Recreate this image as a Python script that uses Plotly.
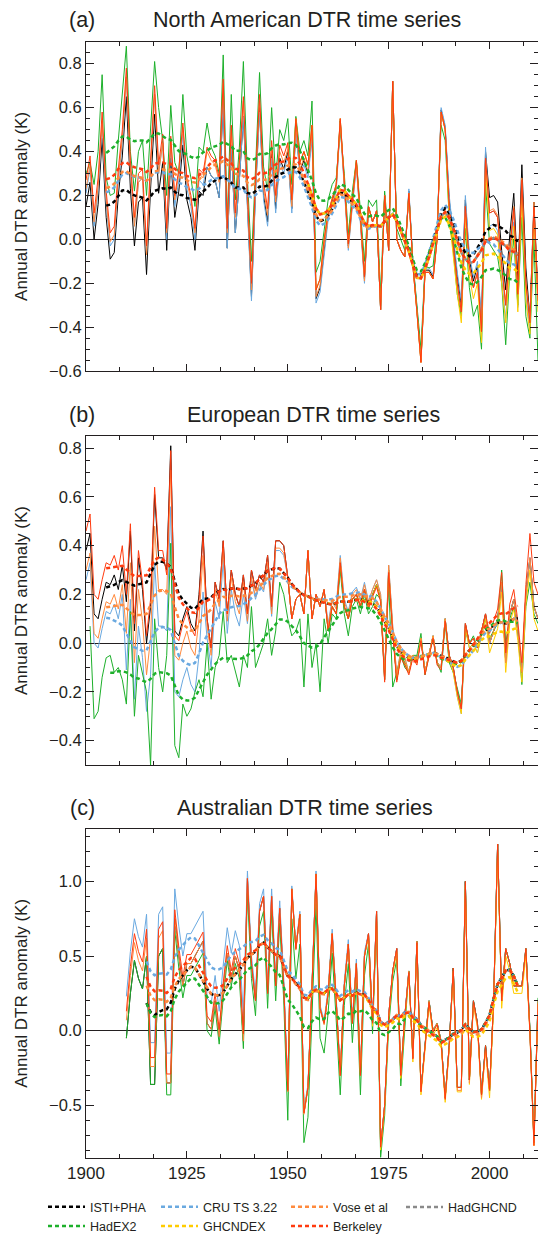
import numpy as np
import plotly.graph_objects as go
from plotly.subplots import make_subplots

# ---------------- data ----------------
NAMES = ["ISTI+PHA", "CRU TS 3.22", "Vose et al", "HadGHCND", "HadEX2", "GHCNDEX", "Berkeley"]
COLORS = {"ISTI+PHA": "#000000", "CRU TS 3.22": "#6aa9e0", "Vose et al": "#ff8a3d",
          "HadGHCND": "#8a8a8a", "HadEX2": "#1db02b", "GHCNDEX": "#ffcc00", "Berkeley": "#ff3b0f"}
DRAW_ORDER = ["HadGHCND", "ISTI+PHA", "CRU TS 3.22", "HadEX2", "GHCNDEX", "Vose et al", "Berkeley"]
LEGEND_OF = {"ISTI+PHA": "legend", "HadEX2": "legend", "CRU TS 3.22": "legend2", "GHCNDEX": "legend2",
             "Vose et al": "legend3", "Berkeley": "legend3", "HadGHCND": "legend4"}

YEARS_NA = list(range(1900, 2013))
NA_BERKELEY = [0.27, 0.38, 0.12, 0.28, 0.58, 0.22, 0.03, 0.06, 0.32, 0.50,
               0.78, 0.36, 0.10, 0.30, 0.32, -0.03, 0.36, 0.70, 0.34, 0.48,
               0.05, 0.47, 0.20, 0.32, 0.53, 0.28, 0.20, 0.05, 0.32, 0.30,
               0.42, 0.38, 0.36, 0.28, 0.73, 0.05, 0.52, 0.12, 0.36, 0.65,
               0.22, -0.20, 0.28, 0.66, 0.26, 0.14, 0.45, 0.20, 0.43, 0.38,
               0.44, 0.18, 0.55, 0.35, 0.40, 0.34, 0.52, -0.23, -0.18, 0.00,
               0.12, 0.18, 0.25, 0.55, 0.28, -0.02, 0.18, 0.36, 0.10, -0.17,
               0.15, 0.08, 0.13, -0.32, 0.20, -0.05, 0.72, 0.00, -0.05, -0.08,
               0.21, -0.12, -0.33, -0.56, -0.15, -0.15, -0.18, 0.00, 0.58, 0.50,
               0.15, -0.02, -0.20, -0.33, 0.15, -0.12, -0.22, -0.15, -0.42, 0.37,
               0.12, 0.13, 0.10, -0.12, -0.30, -0.05, 0.14, -0.25, 0.27, -0.20,
               -0.38, 0.15, -0.28]
NA_HADEX2 = [0.30, 0.35, 0.25, 0.40, 0.75, 0.28, 0.20, 0.21, 0.45, 0.66,
             0.88, 0.40, 0.22, 0.40, 0.45, 0.20, 0.48, 0.81, 0.60, 0.45,
             0.20, 0.61, 0.35, 0.30, 0.66, 0.38, 0.28, 0.15, 0.42, 0.40,
             0.53, 0.42, 0.38, 0.30, 0.84, 0.08, 0.66, 0.18, 0.42, 0.81,
             0.28, -0.10, 0.32, 0.76, 0.33, 0.22, 0.60, 0.28, 0.50, 0.45,
             0.55, 0.25, 0.56, 0.40, 0.45, 0.38, 0.63, -0.15, -0.10, 0.05,
             0.18, 0.25, 0.28, 0.50, 0.30, 0.02, 0.22, 0.36, 0.12, -0.10,
             0.18, 0.15, 0.18, -0.25, 0.22, 0.00, 0.68, 0.05, 0.00, -0.05,
             0.20, -0.10, -0.30, -0.50, -0.12, -0.13, -0.12, 0.05, 0.52, 0.45,
             0.10, -0.05, -0.25, -0.35, 0.05, -0.22, -0.35, -0.30, -0.50, 0.25,
             -0.02, -0.05, -0.08, -0.20, -0.48, -0.15, 0.00, -0.30, 0.10, -0.35,
             -0.45, 0.00, -0.55]
# decadal offsets (1900s ... 2010s) of each dataset relative to Berkeley
NA_OFFSETS = {
    "ISTI+PHA":    [-0.12, -0.13, -0.10, -0.09, -0.06, -0.04, -0.01, 0.00, 0.01, 0.03, 0.07, 0.02],
    "CRU TS 3.22": [-0.06, -0.04, -0.05, -0.09, -0.08, -0.06, -0.03, 0.00, 0.02, 0.05, -0.06, -0.03],
    "Vose et al":  [-0.04, -0.04, -0.02, -0.02, -0.03, -0.03, -0.02, 0.00, 0.00, 0.00, 0.01, 0.02],
    "GHCNDEX":     [0.00, 0.00, 0.00, 0.00, 0.00, 0.00, 0.00, 0.00, 0.00, -0.05, -0.08, -0.05],
    "HadGHCND":    [0.00, 0.00, 0.00, 0.00, 0.00, 0.00, 0.00, 0.00, 0.00, 0.00, 0.00, 0.00],
}
NA_START = {"GHCNDEX": 1950, "HadGHCND": 1950}

YEARS_EU = list(range(1900, 2013))
EU_ISTI = [0.38, 0.45, 0.12, 0.10, 0.18, 0.25, 0.24, 0.28, 0.22, 0.32,
           0.17, 0.46, 0.05, 0.35, 0.22, 0.00, 0.15, 0.61, 0.35, 0.35,
           0.30, 0.81, 0.05, 0.03, 0.10, 0.15, 0.08, 0.05, 0.20, 0.46,
           0.10, -0.02, 0.25, 0.18, 0.42, 0.12, 0.30, 0.20, 0.15, 0.28,
           0.12, 0.30, 0.22, 0.28, 0.25, 0.36, 0.15, 0.42, 0.42, 0.40,
           0.27, 0.10, 0.18, 0.20, 0.12, 0.38, 0.10, 0.20, 0.15, 0.22,
           0.05, 0.15, 0.12, 0.33, 0.15, 0.10, 0.18, 0.20, 0.15, 0.22,
           0.15, 0.20, 0.24, 0.18, -0.15, 0.30, 0.05, -0.15, -0.05, -0.08,
           -0.12, -0.05, -0.08, 0.02, -0.12, -0.05, 0.03, -0.08, -0.10, 0.10,
           -0.05, -0.10, -0.20, -0.27, 0.08, 0.00, 0.02, -0.02, 0.05, 0.12,
           0.00, 0.05, 0.10, 0.25, -0.08, 0.12, 0.18, 0.05, -0.12, 0.20,
           0.35, 0.15, 0.10]
EU_HADEX2 = [None, 0.07, -0.31, -0.28, -0.14, -0.06, -0.05, -0.12, -0.10, -0.15,
             -0.25, 0.13, -0.30, -0.05, -0.12, -0.20, -0.50, 0.10, -0.10, -0.20,
             -0.05, 0.41, -0.42, -0.47, -0.25, -0.30, -0.27, -0.20, -0.15, -0.22,
             0.00, -0.23, -0.10, -0.05, 0.13, -0.08, -0.05, -0.12, -0.18, -0.05,
             -0.10, 0.15, -0.10, -0.05, 0.00, 0.10, -0.05, 0.05, 0.25, 0.20,
             0.10, 0.03, 0.05, 0.10, -0.18, 0.12, -0.10, 0.00, -0.20, 0.10,
             0.00, 0.12, 0.10, 0.30, 0.12, 0.03, 0.15, 0.18, 0.12, 0.20,
             0.12, 0.15, 0.20, 0.18, -0.12, 0.25, -0.18, -0.12, -0.05, -0.10,
             -0.12, -0.05, -0.05, 0.04, -0.13, -0.05, 0.02, -0.08, -0.12, 0.08,
             -0.08, -0.12, -0.18, -0.25, 0.05, 0.00, 0.03, -0.02, 0.05, 0.10,
             0.02, 0.05, 0.08, 0.30, 0.00, 0.10, 0.15, 0.05, -0.17, 0.15,
             0.25, 0.12, 0.08]
# decadal offsets (1900s ... 2010s) relative to ISTI+PHA
EU_OFFSETS = {
    "Berkeley":    [0.08, 0.03, -0.02, 0.00, 0.00, 0.00, 0.00, -0.01, -0.01, 0.00, 0.04, 0.10],
    "Vose et al":  [-0.08, -0.13, -0.10, -0.03, -0.03, 0.00, 0.02, 0.02, 0.00, 0.00, 0.00, 0.00],
    "CRU TS 3.22": [-0.12, -0.28, -0.25, -0.08, -0.04, 0.00, 0.03, 0.02, 0.00, -0.02, 0.00, 0.00],
    "GHCNDEX":     [0.00, 0.00, 0.00, 0.00, 0.00, 0.00, 0.00, 0.00, 0.00, -0.02, -0.04, -0.05],
    "HadGHCND":    [0.00, 0.00, 0.00, 0.00, 0.00, 0.00, 0.00, 0.00, 0.00, 0.00, 0.00, 0.00],
}
EU_START = {"GHCNDEX": 1950, "HadGHCND": 1950}

YEARS_AU = list(range(1910, 2013))
AU_ISTI = [-0.05, 0.25, 0.47, 0.35, 0.28, 0.50, -0.36, -0.36, 0.50, 0.55,
           -0.35, -0.35, 0.75, 0.50, 0.30, 0.45, 0.45, 0.50, 0.55, 0.60,
           0.05, 0.01, 0.20, -0.04, 0.27, 0.52, 0.35, 0.50, 0.40, -0.07,
           1.02, 0.45, 0.20, 0.80, 0.90, 0.25, 0.90, 0.30, 0.82, 0.30,
           -0.40, 0.95, 0.55, 0.78, -0.55, -0.38, 0.30, 1.05, 0.15, 0.05,
           0.25, 0.65, 0.20, -0.30, 0.30, 0.58, 0.05, 0.45, -0.30, 0.50,
           0.65, 0.05, 0.80, -0.78, -0.50, 0.10, 0.40, 0.55, -0.30, 0.10,
           0.40, -0.18, 0.60, -0.40, -0.10, 0.20, 0.00, 0.05, -0.07, -0.45,
           -0.10, 0.42, -0.38, -0.38, 1.00, -0.33, 0.20, 0.05, -0.43, -0.10,
           -0.40, 0.20, 1.25, 0.20, 0.55, 0.45, 0.30, 0.30, 0.30, 0.55,
           0.00, -0.75, 0.20]
# decadal offsets (1910s ... 2010s) relative to ISTI+PHA
AU_OFFSETS = {
    "CRU TS 3.22": [0.28, 0.20, 0.17, 0.05, 0.02, 0.03, 0.00, 0.00, 0.00, 0.00, 0.00],
    "Berkeley":    [0.18, 0.06, 0.05, 0.00, 0.00, 0.00, 0.00, -0.01, 0.00, 0.00, -0.02],
    "Vose et al":  [0.12, 0.00, 0.00, 0.00, -0.01, 0.00, 0.00, 0.00, -0.02, 0.00, 0.00],
    "HadEX2":      [0.00, -0.08, -0.05, -0.10, -0.20, -0.13, -0.07, 0.00, 0.00, 0.00, 0.02],
    "GHCNDEX":     [0.00, 0.00, 0.00, 0.00, 0.00, 0.00, -0.02, -0.03, -0.03, -0.05, -0.02],
    "HadGHCND":    [0.00, 0.00, 0.00, 0.00, 0.00, 0.00, 0.00, 0.00, 0.00, 0.00, 0.00],
}
AU_START = {"GHCNDEX": 1950, "HadGHCND": 1950}


# ---------------- helpers ----------------
def shifted(years, base, offsets, start=None):
    xs, ys = [], []
    d0 = years[0] // 10 * 10
    for yr, v in zip(years, base):
        if v is None or (start is not None and yr < start):
            continue
        xs.append(yr)
        ys.append(round(v + offsets[(yr - d0) // 10], 3))
    return xs, ys


def plain(years, vals):
    xs = [y for y, v in zip(years, vals) if v is not None]
    ys = [v for v in vals if v is not None]
    return xs, ys


W = np.array([1, 2, 3, 4, 5, 6, 5, 4, 3, 2, 1], float)
W /= W.sum()


def smooth(xs, ys):
    v = np.array(ys, float)
    h = len(W) // 2
    return xs[h:len(v) - h], [float(np.dot(W, v[i - h:i + h + 1])) for i in range(h, len(v) - h)]


def panel_series(years, base_name, base, extra, offsets, starts):
    out = {base_name: plain(years, base)}
    for k, vals in extra.items():
        out[k] = plain(years, vals)
    for k, off in offsets.items():
        out[k] = shifted(years, base, off, starts.get(k))
    return out


PANELS = [
    panel_series(YEARS_NA, "Berkeley", NA_BERKELEY, {"HadEX2": NA_HADEX2}, NA_OFFSETS, NA_START),
    panel_series(YEARS_EU, "ISTI+PHA", EU_ISTI, {"HadEX2": EU_HADEX2}, EU_OFFSETS, EU_START),
    panel_series(YEARS_AU, "ISTI+PHA", AU_ISTI, {}, AU_OFFSETS, AU_START),
]

# ---------------- figure ----------------
W_PX, H_PX = 538, 1241
L = 86
fig = make_subplots(rows=3, cols=1)

for row, series in enumerate(PANELS, start=1):
    for name in DRAW_ORDER:
        xs, ys = series[name]
        fig.add_trace(go.Scatter(x=xs, y=ys, mode="lines", showlegend=False, hoverinfo="skip",
                                 line=dict(color=COLORS[name], width=1)), row=row, col=1)
    for name in DRAW_ORDER:
        xs, ys = series[name]
        sx, sy = smooth(xs, ys)
        fig.add_trace(go.Scatter(x=sx, y=sy, mode="lines", name=name,
                                 showlegend=(row == 1), legend=LEGEND_OF[name],
                                 line=dict(color=COLORS[name], width=2.5, dash="4px,3px")),
                      row=row, col=1)

FONT = "Liberation Sans, Arial, Helvetica, sans-serif"
INK = "#231f20"


def ydom(top_px, bot_px):
    return [1 - bot_px / H_PX, 1 - top_px / H_PX]


doms = [ydom(42.3, 376.0), ydom(441.7, 775.0), ydom(840.0, 1172.7)]
yranges = [[-0.6, 0.9], [-0.5, 0.85], [-0.85, 1.35]]
ydticks = [(0.2, 0.05), (0.2, 0.05), (0.5, 0.1)]

for i in range(3):
    ax = "" if i == 0 else str(i + 1)
    fig.layout["yaxis" + ax].update(
        domain=doms[i], range=yranges[i], dtick=ydticks[i][0], tick0=0, tickformat=".1f",
        showline=True, linecolor=INK, linewidth=1, mirror="ticks",
        ticks="inside", ticklen=8, tickwidth=1, tickcolor=INK,
        minor=dict(ticks="inside", ticklen=4, dtick=ydticks[i][1], tick0=0, tickcolor=INK, showgrid=False),
        showgrid=False, zeroline=True, zerolinecolor=INK, zerolinewidth=1,
        tickfont=dict(size=16.5, color=INK, family=FONT), automargin=False,
        title=dict(text="Annual DTR anomaly (K)", standoff=17,
                   font=dict(size=17, color=INK, family=FONT)),
    )
    fig.layout["xaxis" + ax].update(
        domain=[0, 1], range=[1900, 2012], tick0=1900, dtick=25,
        showline=True, linecolor=INK, linewidth=1, mirror="ticks",
        ticks="inside", ticklen=7, tickwidth=1, tickcolor=INK,
        minor=dict(ticks="inside", ticklen=4, dtick=25 / 3, tick0=1900, tickcolor=INK, showgrid=False),
        showgrid=False, zeroline=False, showticklabels=(i == 2),
        tickfont=dict(size=17, color=INK, family=FONT), automargin=False,
    )

titles = [("(a)", "North American DTR time series", 20.5, 307),
          ("(b)", "European DTR time series", 420.0, 313),
          ("(c)", "Australian DTR time series", 819.0, 305)]
ann = []
for tag, text, ypx, xc in titles:
    ann.append(dict(text=tag, x=(82 - L) / (W_PX - L), y=1 - ypx / H_PX, xref="paper", yref="paper",
                    showarrow=False, xanchor="center", yanchor="middle",
                    font=dict(size=21.5, color=INK, family=FONT)))
    ann.append(dict(text=text, x=(xc - L) / (W_PX - L), y=1 - ypx / H_PX, xref="paper", yref="paper",
                    showarrow=False, xanchor="center", yanchor="middle",
                    font=dict(size=21.5, color=INK, family=FONT)))

leg_common = dict(orientation="v", xanchor="left", yanchor="top", y=1 - 1208 / H_PX,
                  bgcolor="rgba(0,0,0,0)", borderwidth=0, tracegroupgap=0,
                  font=dict(size=12.5, color=INK, family=FONT), itemwidth=37)
leg_x = [43, 156, 286, 401]

fig.update_layout(
    width=W_PX, height=H_PX, template="none",
    margin=dict(l=L, r=0, t=0, b=0), paper_bgcolor="white", plot_bgcolor="white",
    annotations=ann,
    legend=dict(leg_common, x=(leg_x[0] - L) / (W_PX - L)),
    legend2=dict(leg_common, x=(leg_x[1] - L) / (W_PX - L)),
    legend3=dict(leg_common, x=(leg_x[2] - L) / (W_PX - L)),
    legend4=dict(leg_common, x=(leg_x[3] - L) / (W_PX - L)),
)

fig.write_html("out.html", config={"displayModeBar": False},
               post_script="document.body.style.margin='0px';")
